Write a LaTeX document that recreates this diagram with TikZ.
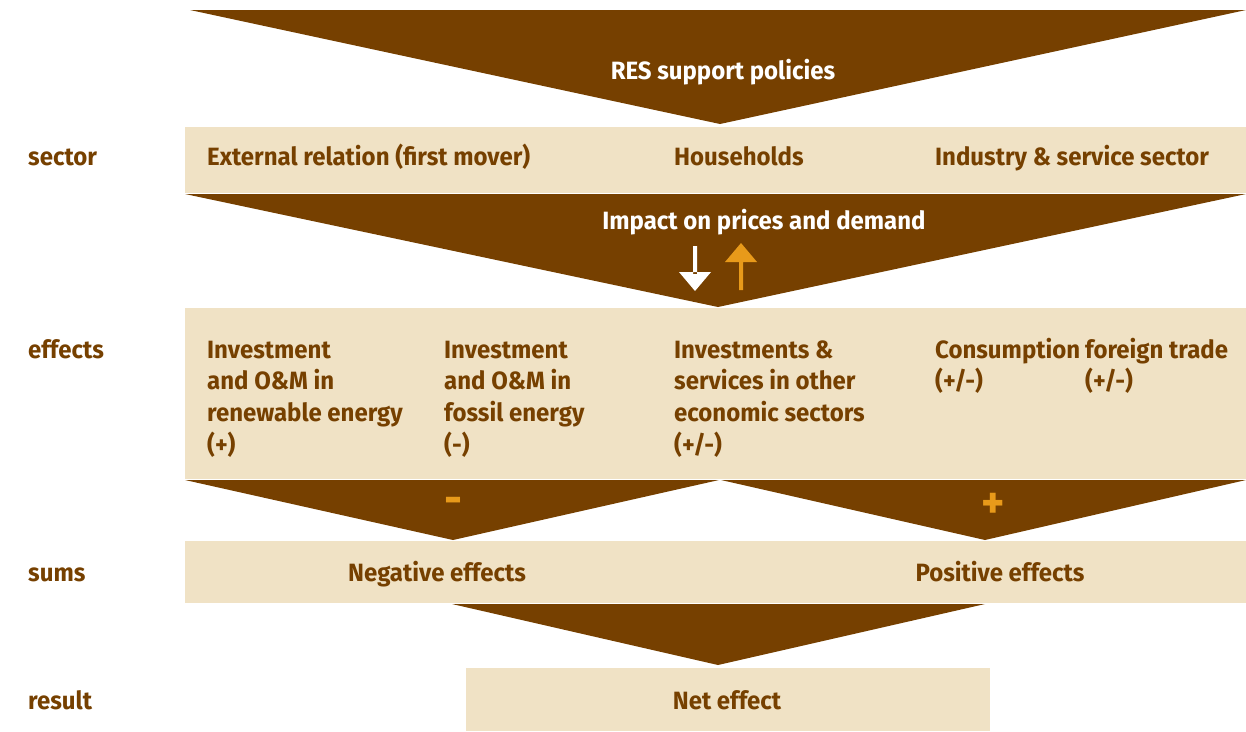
\documentclass[tikz,border=0pt]{standalone}
\usepackage{fontspec}
\setmainfont{Fira Sans}[FakeStretch=0.96]
\definecolor{brn}{RGB}{118,64,0}
\definecolor{beige}{RGB}{240,226,197}
\definecolor{orng}{RGB}{232,154,26}
\tikzset{
  band/.style={fill=beige},
  funnel/.style={fill=brn},
  txt/.style={anchor=base west, inner sep=0pt, text=brn, font=\fontsize{25}{31.7}\selectfont\bfseries},
  ctxt/.style={anchor=base, inner sep=0pt, text=brn, font=\fontsize{25}{31.7}\selectfont\bfseries},
  wtxt/.style={anchor=base, inner sep=0pt, text=white, font=\fontsize{25}{31.7}\selectfont\bfseries},
  sign/.style={anchor=center, inner sep=0pt, text=orng, font=\fontsize{46}{50}\selectfont\bfseries},
}
\newcommand{\lines}[1]{\parbox[t]{260pt}{\raggedright #1}}
\begin{document}
\begin{tikzpicture}[x=1pt,y=-1pt]
\useasboundingbox (0,0) rectangle (1246,731);
% funnels
\fill[funnel] (190,10) -- (1246,10) -- (720,124) -- cycle;
\fill[funnel] (185,194) -- (1246,194) -- (718,307) -- cycle;
\fill[funnel] (185,480) -- (719,480) -- (453,540) -- cycle;
\fill[funnel] (721,480) -- (1246,480) -- (985,540) -- cycle;
\fill[funnel] (452,604) -- (985,604) -- (718,665) -- cycle;
% bands
\node[band, anchor=north west, minimum width=1061pt, minimum height=66pt, inner sep=0pt] (sector) at (185,127) {};
\node[band, anchor=north west, minimum width=1061pt, minimum height=171pt, inner sep=0pt] (effects) at (185,308) {};
\node[band, anchor=north west, minimum width=1061pt, minimum height=62pt, inner sep=0pt] (sums) at (185,541) {};
\node[band, anchor=north west, minimum width=524pt, minimum height=63pt, inner sep=0pt] (result) at (466,668) {};
% row labels
\node[txt] (lsector) at (28,165) {sector};
\node[txt] (leffects) at (28,358) {effects};
\node[txt] (lsums) at (28,581) {sums};
\node[txt] (lresult) at (28,709) {result};
% top
\node[wtxt] (res) at (723,79) {RES support policies};
% sector row
\node[txt] (ext) at (207,165) {External relation (first mover)};
\node[txt] (hh) at (674,165) {Households};
\node[txt] (ind) at (935,165) {Industry \& service sector};
% impact
\node[wtxt] (imp) at (764,229) {Impact on prices and demand};
\fill[white] (693,246) rectangle (697,274) (679,272) -- (711,272) -- (695,291) -- cycle;
\fill[orng] (739,260) rectangle (743,290) (725,262) -- (757,262) -- (741,243) -- cycle;
% effects
\node[txt] (e1) at (207,358) {\lines{Investment\\and O\&M in\\renewable energy\\(+)}};
\node[txt] (e2) at (444,358) {\lines{Investment\\and O\&M in\\fossil energy\\(-)}};
\node[txt] (e3) at (674,358) {\lines{Investments \&\\services in other\\economic sectors\\(+/-)}};
\node[txt] (e4) at (935,358) {\lines{Consumption\\(+/-)}};
\node[txt] (e5) at (1085,358) {\lines{foreign trade\\(+/-)}};
% signs
\node[sign] (minus) at (453,506) {-};
\node[sign] (plus) at (993,506) {+};
% sums
\node[ctxt] (neg) at (437,581) {Negative effects};
\node[ctxt] (pos) at (1000,581) {Positive effects};
\node[ctxt] (net) at (727,709) {Net effect};
\end{tikzpicture}
\end{document}
